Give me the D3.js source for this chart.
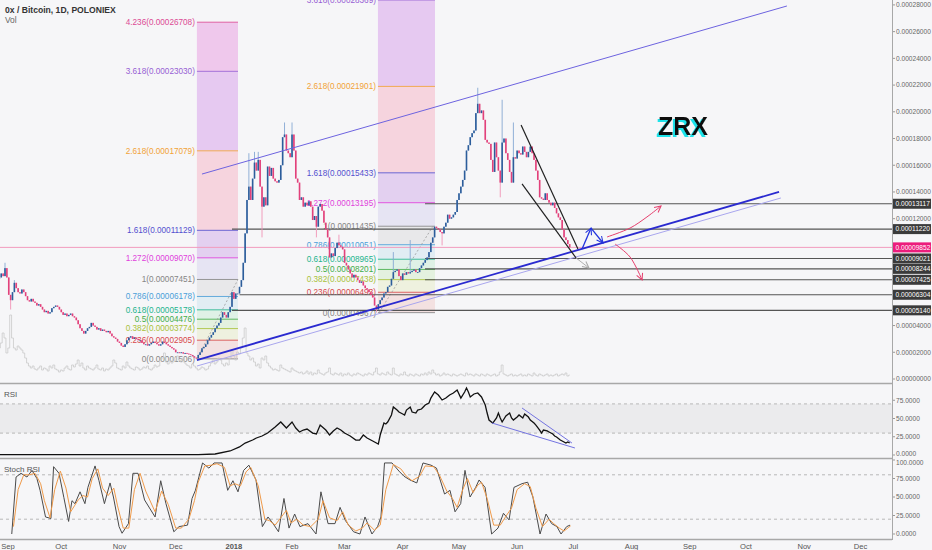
<!DOCTYPE html>
<html><head><meta charset="utf-8">
<script src="https://cdn.jsdelivr.net/npm/d3@7"></script>
<style>
html,body{margin:0;padding:0;background:#f6f6f8;}
svg{display:block;font-family:"Liberation Sans","DejaVu Sans",Arial,sans-serif;}
</style></head><body>
<svg id="chart" width="932" height="550"></svg>
<script>
// ---------- DATA (prices in units of 1e-5 BTC, day 0 = 2017-09-01) ----------
const FIRST_DAY = -3;
const FIRST_OPEN = 7.5;
const closes = [
 7.6,7.9,7.7,8.3,7.6,6.3,5.9,6.5,7.2,6.8,
 6.5,6.4,6.7,6.5,6.2,5.9,5.8,6.0,5.8,5.7,
 5.5,5.6,5.4,5.2,5.0,5.1,4.9,5.0,5.3,5.4,
 5.5,5.4,5.2,5.0,4.8,4.9,4.7,4.8,4.9,4.7,
 4.6,4.4,4.1,3.8,3.6,3.4,3.6,3.8,3.9,4.2,
 4.0,3.9,3.7,3.8,3.6,3.7,3.6,3.5,3.6,3.4,
 3.2,3.1,3.0,2.8,2.7,2.5,2.4,2.6,2.9,3.1,
 3.2,3.0,3.1,3.0,2.9,2.9,2.7,2.6,2.6,2.5,
 2.6,2.7,2.8,2.7,2.6,2.5,2.6,2.8,2.7,2.6,
 2.5,2.4,2.3,2.2,2.0,2.0,1.95,2.0,1.9,1.95,
 1.9,1.85,1.8,1.7,1.6,1.55,1.8,2.0,2.3,2.4,
 2.6,2.9,3.1,3.3,3.5,3.8,4.0,4.2,4.6,5.0,
 4.8,4.6,5.0,5.4,6.5,6.0,6.4,6.4,6.9,7.4,
 8.7,10.9,13.4,14.4,13.4,15.0,16.2,15.6,16.4,14.4,
 12.9,13.6,13.0,15.9,15.2,15.8,15.0,14.8,14.7,14.9,
 16.0,18.1,18.3,17.1,16.9,16.6,18.3,17.1,15.0,14.7,
 13.4,13.6,12.9,13.2,13.0,13.3,12.9,11.9,12.2,11.4,
 12.9,13.1,12.6,11.7,11.2,10.6,9.1,9.4,9.2,9.8,
 10.2,10.0,9.9,9.7,8.7,8.5,8.2,7.9,7.6,7.8,
 7.6,7.4,7.2,7.3,7.0,6.8,6.7,6.5,6.3,6.1,
 5.5,5.2,5.6,5.9,6.1,6.4,6.5,6.9,7.0,7.5,
 8.0,8.1,8.2,7.7,7.4,7.9,7.8,8.0,7.9,8.0,
 8.1,8.2,8.0,8.0,8.3,8.5,8.7,8.9,9.1,9.5,
 10.2,10.6,11.4,11.3,11.2,11.0,10.9,11.4,11.7,12.3,
 12.0,12.1,12.3,12.5,13.4,13.9,14.4,14.9,15.6,17.1,
 17.5,18.1,18.4,18.6,19.9,20.6,19.9,20.1,19.4,17.9,
 17.7,17.6,16.4,15.5,17.7,16.6,15.6,14.7,17.7,18.0,
 16.9,16.4,15.5,14.7,16.6,16.5,17.1,16.9,16.8,17.4,
 17.0,16.6,17.0,17.4,16.9,16.4,15.6,14.9,13.6,13.5,
 13.4,13.9,13.4,13.2,13.0,13.2,12.8,12.4,12.1,11.9,
 11.2,10.6,10.4,10.1,9.852
];
const wickHighs = [[0,8.7],[5,7.4],[130,16.9],[133,17.0],[135,17.0],[149,19.2],[153,19.2],[178,10.8],[207,9.5],[216,10.4],[252,21.8],[265,20.9],[271,19.2]];
const wickLows = [[3,5.2],[102,1.506],[137,10.6],[166,10.6],[198,4.967],[233,10.0],[264,13.6]];
const volumes = [
 30,35,45,40,25,30,63,40,30,28,
 32,30,28,25,20,15,12,10,12,9,
 8,10,12,8,10,9,7,12,10,13,
 9,8,6,8,7,10,12,9,8,13,
 11,14,18,12,15,10,8,12,10,9,
 8,10,13,9,8,10,7,9,8,10,
 12,18,15,10,9,8,12,10,16,12,
 10,9,8,11,10,8,9,11,10,12,
 9,8,10,13,11,12,18,20,25,16,
 14,18,15,20,17,22,18,16,20,15,
 13,12,10,14,12,10,8,9,11,10,
 8,9,12,15,18,14,16,20,18,14,
 12,15,13,20,28,22,18,26,24,30,
 40,50,25,22,18,20,16,12,14,10,
 20,18,22,15,12,10,8,9,8,7,
 13,10,9,8,7,6,10,8,7,6,
 5,6,4,5,7,4,6,3,5,4,
 8,5,4,3,5,6,10,4,3,5,
 4,3,5,2,4,3,5,3,2,4,
 3,5,4,3,2,4,3,5,4,3,
 6,10,4,3,5,4,3,6,4,3,
 10,4,3,2,4,3,6,3,2,4,
 3,2,4,3,2,4,3,5,3,6,
 4,8,5,3,4,2,3,5,3,4,
 3,2,4,3,2,3,4,3,2,5,
 3,4,3,2,4,3,2,4,3,2,
 4,3,2,3,4,2,3,6,13,4,
 3,2,3,4,2,3,2,3,4,2,
 3,2,4,3,2,5,3,2,4,3,
 2,3,4,2,3,2,3,4,2,3,
 4,3,5,2,3
];
const rsi = [[-3,0.5],[103,0.5],[112,1.4],[120,5.5],[125,11],[128,16.4],[132,20.5],[134,23.3],[137,26],[140,30.1],[144,38.4],[147,45.2],[150,37],[153,45.2],[155,37],[157,31.5],[159,34.2],[161,35.6],[164,30.1],[166,28.8],[168,41],[171,34.2],[173,27.4],[175,32.9],[177,37],[179,34.2],[181,30.1],[184,26],[187,20.5],[189,20.5],[191,27.4],[193,23.3],[196,19.2],[199,15],[200,27.4],[202,43.8],[203,42.5],[204,45.2],[206,54.8],[207,65.8],[209,61.6],[210,58.9],[212,56.2],[213,54.8],[214,61.6],[216,65.8],[217,58.9],[219,57.5],[220,61.6],[222,63],[223,65.8],[224,68.5],[226,71.2],[227,78],[229,86.3],[231,82.2],[233,75.3],[235,78],[237,82.2],[239,85],[241,89],[243,78],[245,86.3],[246,91.8],[247,86.3],[248,79.5],[250,83.6],[252,85],[253,82.2],[254,79.5],[256,68.5],[257,57.5],[258,47.9],[260,43.8],[262,50.7],[263,57.5],[264,50.7],[265,45.2],[267,53.4],[269,57.5],[270,50.7],[271,47.9],[273,52],[274,54.8],[276,50.7],[277,56.2],[279,52],[280,47.9],[282,43.8],[283,41],[285,34.2],[286,30.1],[287,34.2],[289,32.9],[290,31.5],[292,28.8],[293,26],[294,24.7],[296,20.5],[297,19.2],[299,16.4],[300,17.8],[301,16.4]];
const stochK = [[3.6,0],[5.9,77],[8.5,82],[11.7,77],[14.4,86],[17,75],[18.7,59],[21.6,23],[24.5,21],[25.9,91],[28.8,82],[31.4,49],[33.9,17],[35.7,45],[37.3,41],[40,57],[42.6,41],[44.2,63],[48,92],[50.1,72],[53,41],[56,69],[57.8,50],[60.8,10],[62.4,1],[65.8,14],[68.2,82],[70.9,82],[74.4,46],[80,23],[83,72],[85.8,41],[90,3],[92.8,10],[97.3,12],[99.7,48],[101.5,59],[105.3,96],[108.7,89],[111.4,96],[115.7,96],[118.7,59],[121.5,72],[124.2,57],[127.2,86],[130,93],[133.8,73],[137.2,10],[140.2,23],[142.9,14],[145.8,3],[148.7,48],[151.4,8],[154.4,27],[157.2,10],[161.5,14],[165.8,0],[168.4,57],[172.2,14],[175.9,14],[178.6,36],[181.5,18],[185.8,3],[189.2,0],[191.9,23],[195.6,0],[198.6,10],[200.4,23],[202.3,96],[206.3,96],[210,85],[212.7,78],[215.9,73],[219.5,69],[222.8,96],[227.1,93],[230,89],[234.3,54],[237.2,59],[239.9,30],[242.9,41],[245.2,86],[247.9,50],[250.9,63],[252.7,73],[255.9,63],[259.4,0],[262.8,8],[265.7,28],[268.7,19],[271.3,63],[275.6,68],[278.6,70],[281.4,50],[285.2,0],[288.4,27],[291.4,14],[294.2,10],[296.4,0],[299.4,10],[301.2,12]];
const stochD = [[4.5,10],[7,60],[10,80],[13,80],[16,82],[19,68],[21,45],[24,22],[26.5,60],[29.5,85],[32.5,62],[35,30],[37,38],[39,46],[41.5,52],[44,50],[46.5,75],[49.5,88],[52,62],[55,52],[58,62],[60,38],[63,8],[66,8],[69,60],[72,82],[75,58],[80,30],[83.5,58],[87,40],[91,8],[94,8],[98,20],[101,45],[103,70],[106.5,92],[110,93],[113,95],[117,90],[120,65],[122.5,68],[125.5,65],[128.5,84],[131,90],[135,65],[138.5,20],[141,18],[144,12],[147,22],[150,32],[152.5,15],[155.5,20],[159,12],[163,10],[167,20],[169.5,45],[173,22],[177,18],[180,30],[183,12],[187,4],[190.5,8],[193,15],[197,5],[200,12],[203,60],[207,94],[211,88],[214,78],[217,72],[221,78],[224,92],[228.5,91],[231.5,80],[235.5,58],[238.5,48],[241,36],[244,60],[246.5,75],[249.5,56],[252,66],[254,70],[257,48],[260.5,12],[264,12],[267,24],[270,35],[273,60],[277,68],[280,64],[283,35],[286.5,10],[290,20],[292.5,14],[295.5,8],[298,4],[300.5,9],[301.5,11]];

const fibLevels = [0,0.236,0.382,0.5,0.618,0.786,1,1.272,1.618,2.618,3.618,4.236];
const fib1Prices = [1.506,2.905,3.774,4.476,5.178,6.178,7.451,9.070,11.129,17.079,23.030,26.708];
const fib1Days = [102.3,124.2];
const fib2Prices = [4.967,6.493,7.438,8.201,8.965,10.051,11.435,13.195,15.433,21.901,28.369];
const fib2Days = [198.8,229.2];
const fibLineColors = ['#858585','#d8494b','#a8c23a','#43ad48','#22b48d','#4b9fd8','#858585','#e03fdc','#5450cf','#f2a236','#965fd4','#dc4a95'];
const fibFillColors = ['#f3e1e1','#eef1df','#e4f1df','#dff1e6','#e1edf3','#e8e8ea','#e6e4f3','#e3d0f0','#f6d4de','#e6c9f1','#efc8ec'];

const levelPrices = [13.117,11.220,9.021,8.244,7.425,6.304,5.140];
const levelStartDays = [223.9,121,223.9,223.9,223.9,125,121];
const currentPrice = 9.852;
const priceTicks = [0,2,4,6,8,10,12,14,16,18,20,22,24,26,28];

const channelUpper = [[105,15.34],[416.8,27.92]];
const channelLower = [[102.3,1.42],[412.6,14.0]];
const channelLowerThin = [[102.3,0.97],[413.6,13.55]];
const wedgeUpper = [[275.1,19.01],[305.4,9.73]];
const wedgeLower = [[275.6,14.6],[304.4,9.06]];
const grayArrow = [[304.4,9.06],[311.3,8.31]];
const blueArrow = [[307.6,9.73],[312.4,11.30],[318.8,10.18]];
const redUp = [[320.9,10.63],[333.2,11.30],[342.2,12.13],[349.7,12.95]];
const redDown = [[325.2,10.1],[333.2,9.13],[339.6,7.41]];
const fib1Diag = [[102.3,1.506],[124.2,7.451]];
const fib2Diag = [[199.4,4.967],[228.1,11.435]];
const rsiUpperLine = [[275.6,64.4],[302.2,16.4]];
const rsiLowerLine = [[259.6,43.8],[303.8,9.6]];
const zrxLabel = {day:361.4, price:18.26, text:'ZRX'};
const rsiTicks = [0,25,50,75];
const stochTicks = [0,25,50,75,100];

// ---------- SCALES ----------
const DAY0 = Date.UTC(2017,8,1);
const dayDate = d => new Date(DAY0 + d*864e5);
const x = d3.scaleUtc().domain([dayDate(0), dayDate(456)]).range([5, 5+456*1.876]);
const xd = d => x(dayDate(d));
const y = d3.scaleLinear().domain([0,28]).range([379, 4.92]);
const yV = d3.scaleLinear().domain([0,100]).range([378,278]);
const yR = d3.scaleLinear().domain([0,100]).range([455,382]);
const yS = d3.scaleLinear().domain([0,100]).range([534,460]);
const AXX = 892;
const AXFS = 6.6;
const fmtP = v => (v*1e-5).toFixed(8);

const svg = d3.select('#chart');
svg.append('rect').attr('width',932).attr('height',550).attr('fill','#f6f6f8');
const defs = svg.append('defs');
defs.append('clipPath').attr('id','cp').append('rect').attr('x',0).attr('y',0).attr('width',AXX).attr('height',383);
defs.append('clipPath').attr('id','cpr').append('rect').attr('x',0).attr('y',384).attr('width',AXX).attr('height',74);
defs.append('clipPath').attr('id','cps').append('rect').attr('x',0).attr('y',459).attr('width',AXX).attr('height',80);
const shadow = defs.append('filter').attr('id','cyanShadow').attr('x','-20%').attr('y','-30%').attr('width','140%').attr('height','160%');
shadow.append('feDropShadow').attr('dx',-2).attr('dy',2).attr('stdDeviation',0).attr('flood-color','#1ee3ea').attr('flood-opacity',1);
function marker(id,color){
  defs.append('marker').attr('id',id).attr('viewBox','0 0 10 10').attr('refX',9).attr('refY',5)
    .attr('markerWidth',8).attr('markerHeight',8).attr('markerUnits','userSpaceOnUse').attr('orient','auto')
    .append('path').attr('d','M1,1 L9,5 L1,9').attr('fill','none').attr('stroke',color).attr('stroke-width',1.3);
}
marker('mBlue','#2233dd'); marker('mRed','#e6406e'); marker('mGray','#a8a8a8');

const g = svg.append('g').attr('clip-path','url(#cp)');
const pLine = d3.line().x(d=>xd(d[0])).y(d=>y(d[1]));

// ---------- FIBS ----------
function drawFib(prices, days){
  const x0 = xd(days[0]), x1 = xd(days[1]);
  for(let i=1;i<prices.length;i++){
    g.append('rect').attr('x',x0).attr('width',x1-x0)
      .attr('y',y(prices[i])).attr('height',y(prices[i-1])-y(prices[i]))
      .attr('fill',fibFillColors[i-1]);
  }
  prices.forEach((p,i)=>{
    g.append('line').attr('x1',x0).attr('x2',x1).attr('y1',y(p)).attr('y2',y(p))
      .attr('stroke',fibLineColors[i]).attr('stroke-width',1).attr('opacity',0.85);
    g.append('text').attr('x',x0-2).attr('y',y(p)).attr('dy','0.35em').attr('text-anchor','end')
      .attr('font-size',8.2).attr('fill',fibLineColors[i]).text(`${fibLevels[i]}(${fmtP(p)})`);
  });
}
drawFib(fib1Prices, fib1Days);
drawFib(fib2Prices, fib2Days);
[fib1Diag,fib2Diag].forEach(l=>g.append('path').attr('d',pLine(l)).attr('stroke','#9a9a9a').attr('stroke-width',0.8).attr('stroke-dasharray','2,2').attr('fill','none'));

// ---------- VOLUME ----------
const volLine = d3.line().curve(d3.curveStep).x((v,i)=>xd(FIRST_DAY+i)).y(v=>yV(v));
g.append('path').attr('d',volLine(volumes)).attr('fill','none').attr('stroke','#cacaca').attr('stroke-width',0.8);

// ---------- HORIZONTAL LEVELS ----------
g.append('line').attr('x1',0).attr('x2',AXX).attr('y1',y(currentPrice)).attr('y2',y(currentPrice)).attr('stroke','#f29bbd').attr('stroke-width',1);
levelPrices.forEach((p,i)=>{
  g.append('line').attr('x1',xd(levelStartDays[i])).attr('x2',AXX).attr('y1',y(p)).attr('y2',y(p)).attr('stroke','#555').attr('stroke-width',1.1);
});

// ---------- CANDLES ----------
const hiMap = new Map(wickHighs), loMap = new Map(wickLows);
const candles = closes.map((c,i)=>{
  const d = FIRST_DAY+i, o = i===0?FIRST_OPEN:closes[i-1];
  return {d,o,c,h:hiMap.has(d)?hiMap.get(d):Math.max(o,c),l:loMap.has(d)?loMap.get(d):Math.min(o,c),up:c>=o};
});
const cg = g.append('g');
cg.selectAll('line').data(candles).join('line')
  .attr('x1',d=>xd(d.d)).attr('x2',d=>xd(d.d)).attr('y1',d=>y(d.h)).attr('y2',d=>y(d.l))
  .attr('stroke',d=>d.up?'#86a8d2':'#f093b6').attr('stroke-width',0.9);
cg.selectAll('rect').data(candles).join('rect')
  .attr('x',d=>xd(d.d)-0.8).attr('width',1.6)
  .attr('y',d=>y(Math.max(d.o,d.c))).attr('height',d=>Math.max(0.9,Math.abs(y(d.o)-y(d.c))))
  .attr('fill',d=>d.up?'#2c5d9b':'#e2417b');

// ---------- TREND LINES & ANNOTATIONS ----------
g.append('path').attr('d',pLine(channelUpper)).attr('stroke','#6d63e0').attr('stroke-width',1).attr('fill','none');
g.append('path').attr('d',pLine(channelLowerThin)).attr('stroke','#a9a6ee').attr('stroke-width',1).attr('fill','none');
g.append('path').attr('d',pLine(channelLower)).attr('stroke','#2a2ad0').attr('stroke-width',1.8).attr('fill','none');
g.append('path').attr('d',pLine(wedgeUpper)).attr('stroke','#222').attr('stroke-width',1.2).attr('fill','none');
g.append('path').attr('d',pLine(wedgeLower)).attr('stroke','#222').attr('stroke-width',1.2).attr('fill','none');
g.append('path').attr('d',pLine(grayArrow)).attr('stroke','#b0b0b0').attr('stroke-width',1).attr('fill','none').attr('marker-end','url(#mGray)');
g.append('path').attr('d',pLine(blueArrow.slice(0,2))).attr('stroke','#2233dd').attr('stroke-width',1.3).attr('fill','none').attr('marker-end','url(#mBlue)');
g.append('path').attr('d',pLine(blueArrow.slice(1,3))).attr('stroke','#2233dd').attr('stroke-width',1.3).attr('fill','none').attr('marker-end','url(#mBlue)');
const cLine = d3.line().curve(d3.curveCatmullRom).x(d=>xd(d[0])).y(d=>y(d[1]));
g.append('path').attr('d',cLine(redUp)).attr('stroke','#e6406e').attr('stroke-width',1).attr('fill','none').attr('marker-end','url(#mRed)');
g.append('path').attr('d',cLine(redDown)).attr('stroke','#e6406e').attr('stroke-width',1).attr('fill','none').attr('marker-end','url(#mRed)');

g.append('text').attr('x',xd(zrxLabel.day)).attr('y',y(zrxLabel.price)).attr('text-anchor','middle')
  .attr('font-size',25).attr('font-weight',900).attr('fill','#111').attr('filter','url(#cyanShadow)').text(zrxLabel.text);

// header
svg.append('text').attr('x',5).attr('y',12.5).attr('font-size',8.6).attr('font-weight',700).attr('fill','#333').text('0x / Bitcoin, 1D, POLONIEX');
svg.append('text').attr('x',5).attr('y',22.5).attr('font-size',8.4).attr('fill','#666').text('Vol');

// ---------- PRICE AXIS ----------
const ax = svg.append('g');
const boxPrices = levelPrices.concat([currentPrice]);
priceTicks.forEach(t=>{
  ax.append('line').attr('x1',AXX).attr('x2',AXX+3).attr('y1',y(t)).attr('y2',y(t)).attr('stroke','#999');
  const hidden = boxPrices.some(p=>Math.abs(y(p)-y(t))<9);
  if(!hidden) ax.append('text').attr('x',AXX+4).attr('y',y(t)).attr('dy','0.35em').attr('font-size',AXFS).attr('fill','#666').text(fmtP(t));
});
function box(p,color){
  ax.append('rect').attr('x',AXX+1).attr('y',y(p)-5).attr('width',38).attr('height',10).attr('fill',color);
  ax.append('text').attr('x',AXX+3.5).attr('y',y(p)).attr('dy','0.35em').attr('font-size',AXFS).attr('fill','#fff').text(fmtP(p));
}
levelPrices.forEach(p=>box(p,'#3b3b3b'));
box(currentPrice,'#ec1c7c');

// ---------- RSI PANEL ----------
const rg = svg.append('g');
rg.append('rect').attr('x',0).attr('width',AXX).attr('y',yR(70)).attr('height',yR(30)-yR(70)).attr('fill','#ebebed');
[70,30].forEach(v=>rg.append('line').attr('x1',0).attr('x2',AXX).attr('y1',yR(v)).attr('y2',yR(v)).attr('stroke','#b8b8b8').attr('stroke-dasharray','3,3'));
const rLine = d3.line().x(d=>xd(d[0])).y(d=>yR(d[1]));
rg.append('g').attr('clip-path','url(#cpr)').append('path').attr('d',rLine(rsi)).attr('fill','none').attr('stroke','#111').attr('stroke-width',1.3);
rg.append('path').attr('d',rLine(rsiUpperLine)).attr('stroke','#7373e0').attr('stroke-width',1).attr('fill','none');
rg.append('path').attr('d',rLine(rsiLowerLine)).attr('stroke','#7373e0').attr('stroke-width',1).attr('fill','none');
rg.append('text').attr('x',4).attr('y',397).attr('font-size',8).attr('fill','#555').text('RSI');
rsiTicks.forEach(t=>{
  rg.append('line').attr('x1',AXX).attr('x2',AXX+3).attr('y1',yR(t)).attr('y2',yR(t)).attr('stroke','#999');
  rg.append('text').attr('x',AXX+4).attr('y',yR(t)-(t===0?1.5:0)).attr('dy','0.35em').attr('font-size',AXFS).attr('fill','#666').text(t.toFixed(4));
});

// ---------- STOCH RSI PANEL ----------
const sg = svg.append('g');
[80,20].forEach(v=>sg.append('line').attr('x1',0).attr('x2',AXX).attr('y1',yS(v)).attr('y2',yS(v)).attr('stroke','#b8b8b8').attr('stroke-dasharray','3,3'));
const sLine = d3.line().x(d=>xd(d[0])).y(d=>yS(d[1]));
const sc = sg.append('g').attr('clip-path','url(#cps)');
sc.append('path').attr('d',sLine(stochK)).attr('fill','none').attr('stroke','#4a4a4a').attr('stroke-width',1);
sc.append('path').attr('d',sLine(stochD)).attr('fill','none').attr('stroke','#ef9a4a').attr('stroke-width',1);
sg.append('text').attr('x',4).attr('y',472).attr('font-size',8).attr('fill','#555').text('Stoch RSI');
stochTicks.forEach(t=>{
  sg.append('line').attr('x1',AXX).attr('x2',AXX+3).attr('y1',yS(t)).attr('y2',yS(t)).attr('stroke','#999');
  sg.append('text').attr('x',AXX+4).attr('y',yS(t)+(t===100?2.5:0)).attr('dy','0.35em').attr('font-size',AXFS).attr('fill','#666').text(t.toFixed(4));
});

// ---------- FRAME ----------
[383.5,458.5,539.5].forEach(v=>svg.append('line').attr('x1',0).attr('x2',AXX).attr('y1',v).attr('y2',v).attr('stroke','#a8a8a8').attr('stroke-width',1.4));
svg.append('line').attr('x1',AXX+0.5).attr('x2',AXX+0.5).attr('y1',0).attr('y2',540).attr('stroke','#a8a8a8').attr('stroke-width',1);

// ---------- TIME AXIS ----------
const months = d3.utcMonths(dayDate(0), dayDate(457));
months.forEach(m=>{
  const isYear = m.getUTCMonth()===0;
  svg.append('text').attr('x',Math.max(8,x(m))).attr('y',548.5).attr('text-anchor','middle')
    .attr('font-size',7.6).attr('font-weight',isYear?700:400).attr('fill','#555')
    .text(isYear?d3.utcFormat('%Y')(m):d3.utcFormat('%b')(m));
});
</script></body></html>
